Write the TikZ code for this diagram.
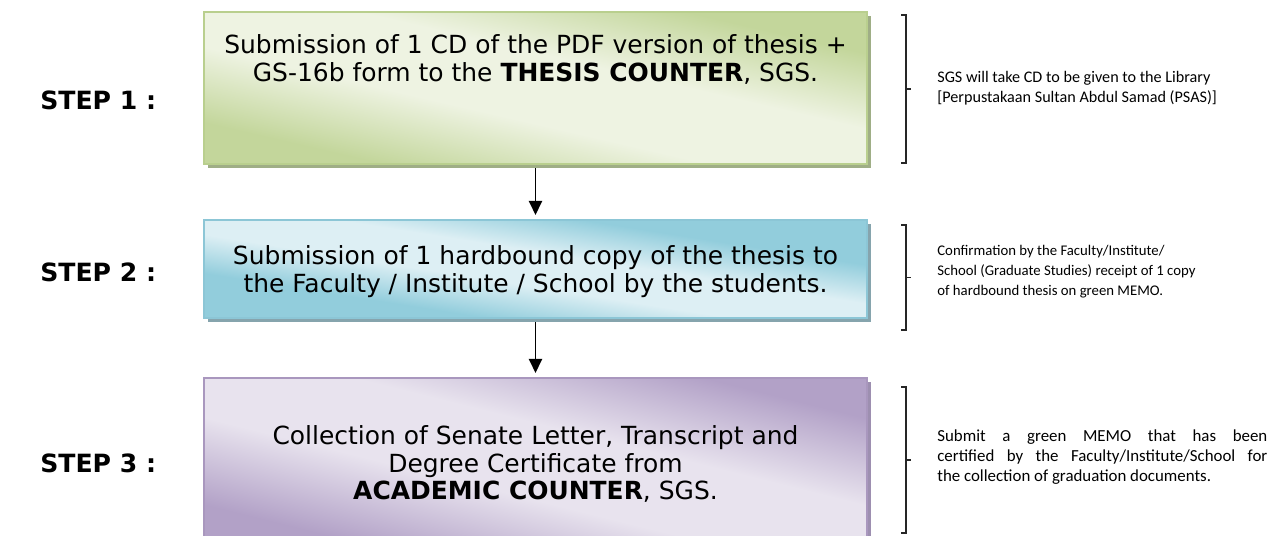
\documentclass[tikz,border=0pt]{standalone}
\usepackage{fontspec}
\setmainfont{DejaVu Sans}
\newfontfamily\notefont{Carlito}
\usetikzlibrary{positioning,arrows.meta,calc}

\definecolor{greendark}{HTML}{C3D69B}
\definecolor{greenlight}{HTML}{EEF3E2}
\definecolor{greenedge}{HTML}{B9CF8E}
\definecolor{greenshadow}{HTML}{9FAE86}
\definecolor{bluedark}{HTML}{92CDDC}
\definecolor{bluelight}{HTML}{DDEFF4}
\definecolor{blueedge}{HTML}{8CC6D6}
\definecolor{blueshadow}{HTML}{86A4AD}
\definecolor{purpledark}{HTML}{B2A1C7}
\definecolor{purplelight}{HTML}{E8E3EE}
\definecolor{purpleedge}{HTML}{A997BE}
\definecolor{purpleshadow}{HTML}{9D8FB0}

\pgfdeclareverticalshading{greenwash}{100bp}{color(0bp)=(greendark); color(28bp)=(greendark); color(43bp)=(greenlight); color(57bp)=(greenlight); color(72bp)=(greendark); color(100bp)=(greendark)}
\pgfdeclareverticalshading{bluewash}{100bp}{color(0bp)=(bluedark); color(34bp)=(bluedark); color(45bp)=(bluelight); color(55bp)=(bluelight); color(66bp)=(bluedark); color(100bp)=(bluedark)}
\pgfdeclareverticalshading{purplewash}{100bp}{color(0bp)=(purpledark); color(27bp)=(purpledark); color(43bp)=(purplelight); color(57bp)=(purplelight); color(73bp)=(purpledark); color(100bp)=(purpledark)}

\begin{document}
\begin{tikzpicture}

\tikzstyle{card}=[outer sep=0pt,minimum width=13.26cm,line width=0.6pt]
\tikzstyle{cardgreen}=[card,draw=greenedge,shading=greenwash,shading angle=-13,preaction={fill=greenshadow,transform canvas={shift={(0.07cm,-0.08cm)}}}]
\tikzstyle{cardblue}=[card,draw=blueedge,shading=bluewash,shading angle=-9,preaction={fill=blueshadow,transform canvas={shift={(0.07cm,-0.08cm)}}}]
\tikzstyle{cardpurple}=[card,draw=purpleedge,shading=purplewash,shading angle=-14,preaction={fill=purpleshadow,transform canvas={shift={(0.07cm,-0.08cm)}}}]
\tikzstyle{cardtext}=[align=center,inner sep=0pt,font=\fontsize{14.2pt}{15.9pt}\selectfont]
\tikzstyle{steplabel}=[anchor=west,inner sep=0pt,font=\fontsize{14.3pt}{16pt}\selectfont\bfseries]
\tikzstyle{note}=[anchor=west,align=left,inner sep=0pt]
\tikzstyle{bracket}=[line width=0.9pt,black!85]
\tikzstyle{flow}=[line width=1.1pt,-{Triangle[width=0.26cm,length=0.28cm]},shorten <=0.09cm,shorten >=0.1cm]

\useasboundingbox (0,0) rectangle (25.48,-10.72);

% Kroki

\node (box1) [cardgreen,minimum height=3.04cm,anchor=north] at (10.71,-0.24) {};
\node (box2) [cardblue,minimum height=1.96cm,below=1.12cm of box1] {};
\node (box3) [cardpurple,minimum height=3.34cm,below=1.2cm of box2] {};

\node (txt1) [cardtext] at ([yshift=-0.95cm]box1.north) {Submission of 1 CD of the PDF version of thesis +\\GS-16b form to the \textbf{THESIS COUNTER}, SGS.};
\node (txt2) [cardtext] at ([yshift=-0.05cm]box2.center) {Submission of 1 hardbound copy of the thesis to\\the Faculty / Institute / School by the students.};
\node (txt3) [cardtext] at ([yshift=-1.72cm]box3.north) {Collection of Senate Letter, Transcript and\\Degree Certificate from\\\textbf{ACADEMIC COUNTER}, SGS.};

% Strzałki

\draw [flow] (box1) -- (box2);
\draw [flow] (box2) -- (box3);

% Etykiety

\node (step1) [steplabel] at (0.8,-2.0) {STEP 1 :};
\node (step2) [steplabel] at (0.8,-5.44) {STEP 2 :};
\node (step3) [steplabel] at (0.8,-9.26) {STEP 3 :};

% Nawiasy

\draw [bracket] (18.02,-0.30) -- (18.12,-0.30) -- (18.12,-3.26) -- (18.02,-3.26);
\draw [bracket] (18.12,-1.78) -- (18.22,-1.78);

\draw [bracket] (18.02,-4.50) -- (18.12,-4.50) -- (18.12,-6.60) -- (18.02,-6.60);
\draw [bracket] (18.12,-5.55) -- (18.22,-5.55);

\draw [bracket] (18.02,-7.74) -- (18.12,-7.74) -- (18.12,-10.66) -- (18.02,-10.66);
\draw [bracket] (18.12,-9.20) -- (18.22,-9.20);

% Uwagi

\node (note1) [note,font=\notefont\fontsize{9.2pt}{11.4pt}\selectfont] at (18.74,-1.76) {SGS will take CD to be given to the Library\\{[Perpustakaan Sultan Abdul Samad (PSAS)]}};
\node (note2) [note,font=\notefont\fontsize{8.4pt}{11.4pt}\selectfont] at (18.74,-5.44) {Confirmation by the Faculty/Institute/\\School (Graduate Studies) receipt of 1 copy\\of hardbound thesis on green MEMO.};
\node (note3) [note,font=\notefont\fontsize{9.6pt}{11.4pt}\selectfont] at (18.74,-9.14) {\makebox[6.6cm][s]{Submit a green MEMO that has been}\\\makebox[6.6cm][s]{certified by the Faculty/Institute/School for}\\the collection of graduation documents.};

\end{tikzpicture}
\end{document}
